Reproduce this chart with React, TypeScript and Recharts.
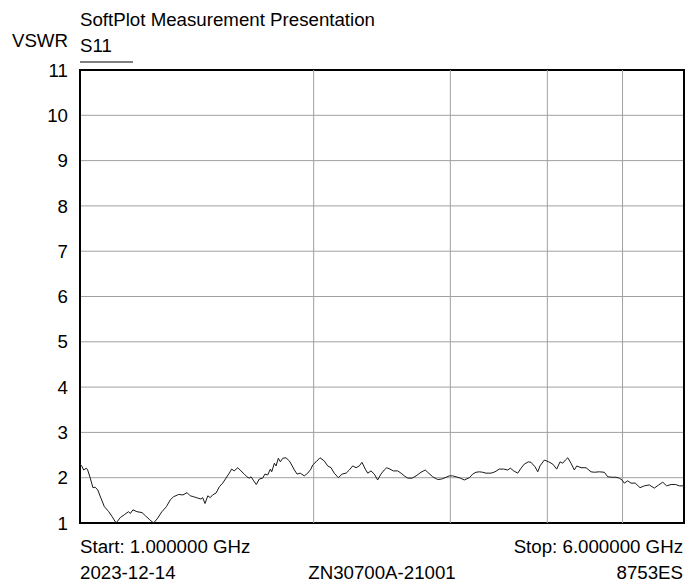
import React from 'react';
import { LineChart, Line, XAxis, YAxis, CartesianGrid, ReferenceArea, ReferenceLine } from 'recharts';

// S11 trace (frequency in GHz, log axis)
const freqGHz = [
  1.0, 1.005, 1.011, 1.019, 1.023, 1.031, 1.039, 1.046, 1.054, 1.064,
  1.075, 1.089, 1.1, 1.113, 1.127, 1.142, 1.155, 1.161, 1.17, 1.184,
  1.202, 1.214, 1.23, 1.244, 1.257, 1.275, 1.292, 1.307, 1.32, 1.34,
  1.357, 1.374, 1.387, 1.401, 1.418, 1.432, 1.439, 1.449, 1.461, 1.472,
  1.482, 1.497, 1.512, 1.527, 1.542, 1.557, 1.568, 1.58, 1.597, 1.612,
  1.628, 1.641, 1.652, 1.661, 1.674, 1.687, 1.702, 1.719, 1.731, 1.745,
  1.759, 1.766, 1.78, 1.789, 1.801, 1.812, 1.825, 1.842, 1.861, 1.874,
  1.889, 1.904, 1.922, 1.945, 1.965, 1.984, 1.994, 2.014, 2.038, 2.064,
  2.085, 2.106, 2.126, 2.152, 2.176, 2.202, 2.223, 2.246, 2.268, 2.29,
  2.308, 2.331, 2.348, 2.371, 2.394, 2.418, 2.442, 2.466, 2.484, 2.508,
  2.533, 2.566, 2.592, 2.617, 2.644, 2.678, 2.71, 2.75, 2.785, 2.805,
  2.847, 2.89, 2.924, 2.953, 2.991, 3.021, 3.051, 3.09, 3.127, 3.174,
  3.206, 3.237, 3.269, 3.302, 3.335, 3.385, 3.425, 3.469, 3.515, 3.557,
  3.584, 3.621, 3.664, 3.7, 3.736, 3.78, 3.811, 3.857, 3.888, 3.914,
  3.965, 4.017, 4.065, 4.113, 4.154, 4.187, 4.22, 4.25, 4.291, 4.334,
  4.365, 4.421, 4.487, 4.553, 4.598, 4.667, 4.737, 4.785, 4.846, 4.904,
  4.952, 4.992, 5.026, 5.077, 5.127, 5.193, 5.266, 5.334, 5.413, 5.494,
  5.566, 5.633, 5.7, 5.774, 5.848, 5.918, 6.0,
];

const vswr = [
  2.3, 2.26, 2.17, 2.21, 2.17, 1.99, 1.78, 1.79, 1.73, 1.55,
  1.36, 1.25, 1.14, 1.0, 1.12, 1.19, 1.25, 1.21, 1.29, 1.25,
  1.23, 1.16, 1.07, 1.0, 1.09, 1.25, 1.36, 1.51, 1.58, 1.63,
  1.62, 1.67, 1.6, 1.58, 1.55, 1.53, 1.56, 1.43, 1.6, 1.56,
  1.62, 1.66, 1.8, 1.88, 1.99, 2.1, 2.19, 2.15, 2.22, 2.15,
  2.08, 2.02, 1.99, 2.02, 1.93, 1.85, 1.97, 1.99, 2.08, 2.06,
  2.19, 2.13, 2.32, 2.26, 2.43, 2.35, 2.43, 2.44, 2.37, 2.28,
  2.17, 2.08, 2.1, 2.04, 2.1, 2.19, 2.28, 2.35, 2.44, 2.37,
  2.26, 2.22, 2.1, 2.0, 2.08, 2.1, 2.17, 2.26, 2.22, 2.26,
  2.34, 2.19, 2.1, 2.15, 2.08, 1.95, 2.08, 2.17, 2.22, 2.19,
  2.15, 2.15, 2.1, 2.04, 1.99, 1.99, 2.04, 2.12, 2.17, 2.12,
  2.02, 1.96, 1.97, 2.0, 2.04, 2.04, 2.02, 1.99, 1.95, 2.0,
  2.08, 2.12, 2.13, 2.12, 2.1, 2.1, 2.13, 2.19, 2.19, 2.17,
  2.21, 2.15, 2.1, 2.21, 2.3, 2.35, 2.34, 2.24, 2.13, 2.26,
  2.39, 2.35, 2.3, 2.19, 2.35, 2.32, 2.39, 2.44, 2.32, 2.17,
  2.26, 2.22, 2.22, 2.13, 2.12, 2.13, 2.12, 2.02, 2.01, 2.01,
  1.99, 1.95, 1.88, 1.93, 1.88, 1.88, 1.78, 1.82, 1.84, 1.77,
  1.84, 1.9, 1.82, 1.85, 1.85, 1.82, 1.82,
];

// vertical grid at whole GHz inside the span
const freqGrid = [2, 3, 4, 5];
const vswrTicks = [1, 2, 3, 4, 5, 6, 7, 8, 9, 10, 11];

const font = '"Liberation Sans", Arial, sans-serif';
const fs = 18.7;

export default function App() {
  const data = freqGHz.map((f, i) => ({ f, v: vswr[i] }));

  return (
    <div style={{ position: 'absolute', left: 0, top: 0, width: 685, height: 583, background: '#fff', fontFamily: font }}>
      <LineChart width={685} height={583} data={data} margin={{ top: 70, right: 1, bottom: 60, left: 0 }}>
        <CartesianGrid stroke="#a0a0a0" strokeWidth={1} vertical={false} />
        <XAxis
          dataKey="f"
          type="number"
          scale="log"
          domain={[1, 6]}
          allowDataOverflow
          height={0}
          tick={false}
          axisLine={false}
          tickLine={false}
        />
        <YAxis
          type="number"
          domain={[1, 11]}
          ticks={vswrTicks}
          interval={0}
          width={80}
          axisLine={false}
          tickLine={false}
          tickSize={0}
          tickMargin={12}
          tick={{ fill: '#000', fontSize: fs, fontFamily: font }}
        />
        {freqGrid.map((g) => (
          <ReferenceLine key={g} x={g} stroke="#a0a0a0" strokeWidth={1} />
        ))}
        <ReferenceArea x1={1} x2={6} y1={1} y2={11} fill="none" stroke="#000" strokeWidth={2} />
        <Line
          type="linear"
          dataKey="v"
          stroke="#1a1a1a"
          strokeWidth={1}
          dot={false}
          isAnimationActive={false}
        />
      </LineChart>
      <svg width={685} height={583} style={{ position: 'absolute', left: 0, top: 0, pointerEvents: 'none' }}>
        <g fontFamily={font} fontSize={fs} fill="#000">
          <text x={80} y={26}>SoftPlot Measurement Presentation</text>
          <text x={68} y={47} textAnchor="end">VSWR</text>
          <text x={80} y={52}>S11</text>
          <text x={80} y={553}>Start: 1.000000 GHz</text>
          <text x={683} y={553} textAnchor="end">Stop: 6.000000 GHz</text>
          <text x={80} y={579}>2023-12-14</text>
          <text x={382} y={579} textAnchor="middle">ZN30700A-21001</text>
          <text x={683} y={579} textAnchor="end">8753ES</text>
        </g>
        <line x1={80} x2={133} y1={62} y2={62} stroke="#000" strokeWidth={1} />
      </svg>
    </div>
  );
}
